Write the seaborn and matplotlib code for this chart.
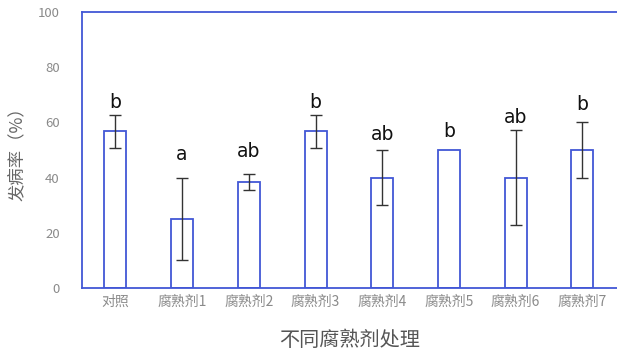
import matplotlib
matplotlib.use("Agg")
import matplotlib.pyplot as plt
import seaborn as sns
import pandas as pd

treatments = ["对照", "腐熟剂1", "腐熟剂2", "腐熟剂3", "腐熟剂4", "腐熟剂5", "腐熟剂6", "腐熟剂7"]
incidence = [56.7, 25.0, 38.3, 56.7, 40.0, 50.0, 40.0, 50.0]
errors = [6.0, 15.0, 2.9, 6.0, 10.0, 0.0, 17.3, 10.0]
letters = ["b", "a", "ab", "b", "ab", "b", "ab", "b"]
letter_y = [65.2, 46.4, 47.5, 65.2, 53.6, 54.7, 59.8, 64.5]
y_ticks = [0, 20, 40, 60, 80, 100]

sns.set_theme(style="white")
plt.rcParams["font.family"] = ["Noto Sans CJK SC", "DejaVu Sans"]

blue = "#4257d6"
df = pd.DataFrame({"处理": treatments, "发病率": incidence})

fig = plt.figure(figsize=(6.17, 3.5), dpi=100)
ax = fig.add_axes([0.133, 0.177, 0.867, 0.789])

sns.barplot(data=df, x="处理", y="发病率", color="white", edgecolor=blue,
            linewidth=1.3, width=0.33, errorbar=None, ax=ax)

# error bars only where a spread was measured
for x, (v, e) in enumerate(zip(incidence, errors)):
    if e > 0:
        ax.errorbar(x, v, yerr=e, fmt="none", ecolor="#333333",
                    elinewidth=1.0, capsize=4, capthick=1.0)

for x, (y, t) in enumerate(zip(letter_y, letters)):
    ax.text(x, y, t, ha="center", va="baseline", fontsize=13.5,
            color="#111111", family=["DejaVu Sans"])

ax.set_ylim(0, 100)
ax.set_xlim(-0.5, 7.52)
ax.set_yticks(y_ticks)
ax.tick_params(axis="both", length=0, labelcolor="#8a8a8a")
ax.tick_params(axis="y", pad=16, labelsize=9.5)
ax.tick_params(axis="x", pad=5, labelsize=10)

for side in ["left", "top", "bottom"]:
    ax.spines[side].set_visible(True)
    ax.spines[side].set_color(blue)
    ax.spines[side].set_linewidth(1.3)
ax.spines["right"].set_visible(False)

ax.set_xlabel("不同腐熟剂处理", fontsize=14.5, color="#555555", labelpad=15)
ax.set_ylabel("发病率（%）", fontsize=12.5, color="#666666", labelpad=8)

fig.savefig("out.png", dpi=100)
